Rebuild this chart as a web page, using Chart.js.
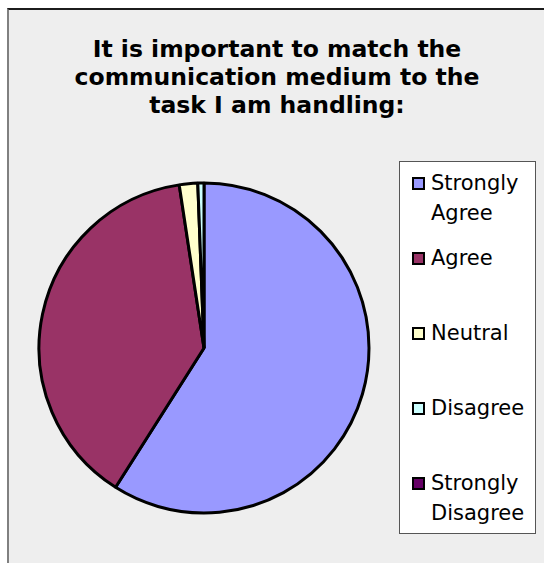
<!DOCTYPE html>
<html>
<head>
<meta charset="utf-8">
<title>Communication medium survey</title>
<script src="https://cdn.jsdelivr.net/npm/chart.js@4.4.1/dist/chart.umd.min.js"></script>
<style>
	html, body { margin: 0; padding: 0; background: #fff; }
	body {
		width: 544px;
		height: 563px;
		overflow: hidden;
		position: relative;
		font-family: "DejaVu Sans", Verdana, sans-serif;
	}
	#frame {
		position: absolute;
		left: 7px;
		top: 8px;
		width: 600px;
		height: 600px;
		background: #eeeeee;
		border-top: 2px solid #1c1c1c;
		border-left: 2px solid #808080;
	}
	#title {
		position: absolute;
		left: 0;
		top: 35px;
		width: 554px;
		text-align: center;
		font-weight: bold;
		font-size: 23.5px;
		line-height: 28px;
		color: #000;
	}
	#pie-wrap {
		position: absolute;
		left: 34px;
		top: 178px;
		width: 340px;
		height: 340px;
	}
	#legend {
		position: absolute;
		left: 399px;
		top: 161px;
		width: 137px;
		height: 373px;
		box-sizing: border-box;
		background: #fff;
		border: 1px solid #555;
		padding: 6px 0 0 12px;
	}
	.legend-item {
		display: flex;
		align-items: flex-start;
		height: 75px;
	}
	.legend-box {
		flex: none;
		width: 13px;
		height: 13px;
		box-sizing: border-box;
		border: 2px solid #000;
		margin-top: 9px;
	}
	.legend-text {
		margin-left: 6px;
		width: 100px;
		font-size: 21px;
		line-height: 30px;
		color: #000;
	}
</style>
</head>
<body>
<div id="frame"></div>
<div id="title">It is important to match the<br>communication medium to the<br>task I am handling:</div>
<div id="pie-wrap"><canvas id="pie"></canvas></div>
<div id="legend"></div>

<script>
// answers and their share of responses (%)
const answers = ["Strongly Agree", "Agree", "Neutral", "Disagree", "Strongly Disagree"];
const shares = [59.0, 38.6, 1.8, 0.6, 0];
const sliceColors = ["#9999ff", "#993366", "#ffffcc", "#ccffff", "#660066"];

const ctx = document.getElementById("pie").getContext("2d");
const chart = new Chart(ctx, {
	type: "pie",
	data: {
		labels: answers,
		datasets: [
			{
				data: shares,
				backgroundColor: sliceColors,
				borderColor: "#000000",
				borderWidth: 3,
			},
		],
	},
	options: {
		responsive: true,
		maintainAspectRatio: false,
		animation: false,
		radius: 165,
		layout: { padding: 0 },
		plugins: {
			legend: { display: false }, // legend is built as html below
			title: { display: false },
		},
	},
});

// html legend with a framed box, filled from the chart data
const legendEl = document.getElementById("legend");
chart.data.labels.forEach((label, i) => {
	const item = document.createElement("div");
	item.className = "legend-item";
	const box = document.createElement("span");
	box.className = "legend-box";
	box.style.background = chart.data.datasets[0].backgroundColor[i];
	const text = document.createElement("span");
	text.className = "legend-text";
	text.textContent = label;
	item.appendChild(box);
	item.appendChild(text);
	legendEl.appendChild(item);
});
</script>
</body>
</html>
